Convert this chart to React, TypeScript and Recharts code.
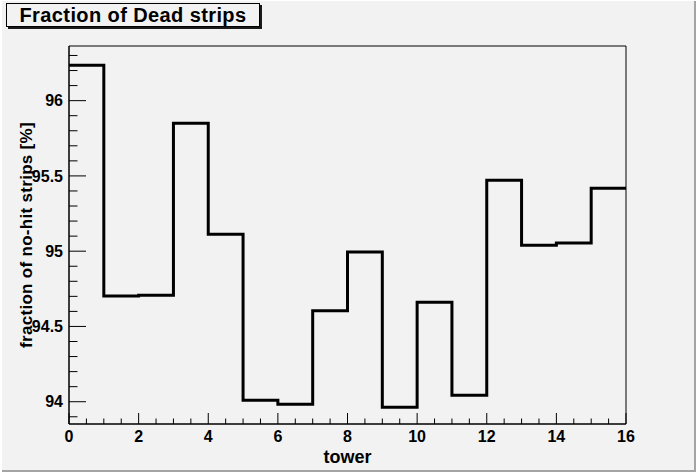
import { LineChart, Line, XAxis, YAxis, ReferenceArea, Label } from 'recharts'

// tower bin edges and the per-tower fraction of no-hit strips [%]
const towerEdges = [0, 1, 2, 3, 4, 5, 6, 7, 8, 9, 10, 11, 12, 13, 14, 15, 16]
const noHitFraction = [
  96.235, 94.702, 94.707, 95.85, 95.112, 94.009, 93.983, 94.605,
  94.995, 93.963, 94.66, 94.043, 95.471, 95.039, 95.055, 95.418,
]

const xMajorTicks = [0, 2, 4, 6, 8, 10, 12, 14, 16]
const xMinorStep = 0.5
const yMajorTicks = [94, 94.5, 95, 95.5, 96]
const yMinorStep = 0.1

const X_MIN = 0
const X_MAX = 16
const Y_MIN = 93.852
const Y_MAX = 96.363

const FONT = '"Liberation Sans", Arial, Helvetica, sans-serif'
const BG = '#f2f2f2'

// stepAfter needs a closing point at the right edge
const data = towerEdges.map((edge, i) => ({
  tower: edge,
  value: noHitFraction[Math.min(i, noHitFraction.length - 1)],
}))

const xTicks: number[] = []
for (let i = 0; i <= (X_MAX - X_MIN) / xMinorStep; i++) xTicks.push(X_MIN + i * xMinorStep)

const yTicks: number[] = []
for (let i = 0; i <= 24; i++) yTicks.push(Math.round((93.9 + i * yMinorStep) * 10) / 10)

const isMember = (list: number[], v: number) => list.some((t) => Math.abs(t - v) < 1e-6)

const XTick = ({ x, y, payload }: any) => {
  const major = isMember(xMajorTicks, payload.value)
  return (
    <g>
      <line x1={x} x2={x} y1={y} y2={y - (major ? 11 : 5.5)} stroke="#000" strokeWidth={1} />
      {major && (
        <text
          x={x}
          y={y + 18}
          textAnchor="middle"
          fontFamily={FONT}
          fontWeight="bold"
          fontSize={16}
          fill="#000"
        >
          {payload.value}
        </text>
      )}
    </g>
  )
}

const YTick = ({ x, y, payload }: any) => {
  const major = isMember(yMajorTicks, payload.value)
  return (
    <g>
      <line x1={x} x2={x + (major ? 17 : 8.5)} y1={y} y2={y} stroke="#000" strokeWidth={1} />
      {major && (
        <text
          x={x - 6}
          y={y}
          dy="0.36em"
          textAnchor="end"
          fontFamily={FONT}
          fontWeight="bold"
          fontSize={16}
          fill="#000"
        >
          {payload.value}
        </text>
      )}
    </g>
  )
}

const XTitle = ({ viewBox }: any) => (
  <text
    x={viewBox.x + viewBox.width / 2}
    y={463}
    textAnchor="middle"
    fontFamily={FONT}
    fontWeight="bold"
    fontSize={18}
    fill="#000"
  >
    tower
  </text>
)

const YTitle = ({ viewBox }: any) => {
  const cx = 31.5
  const cy = viewBox.y + viewBox.height / 2
  return (
    <text
      x={cx}
      y={cy}
      transform={`rotate(-90 ${cx} ${cy})`}
      textAnchor="middle"
      fontFamily={FONT}
      fontWeight="bold"
      fontSize={17}
      letterSpacing={0.3}
      fill="#000"
    >
      fraction of no-hit strips [%]
    </text>
  )
}

export default function App() {
  return (
    <div
      style={{
        position: 'absolute',
        left: 0,
        top: 0,
        width: 696,
        height: 472,
        background: BG,
        boxShadow: 'inset 2px 1px 0 #ffffff, inset -2px -2px 0 #a4a4a4',
      }}
    >
      <LineChart
        width={696}
        height={472}
        data={data}
        margin={{ top: 46, right: 70, left: 0, bottom: 0 }}
      >
        <XAxis
          dataKey="tower"
          type="number"
          domain={[X_MIN, X_MAX]}
          allowDataOverflow
          ticks={xTicks}
          interval={0}
          tickSize={0}
          tickMargin={0}
          tickLine={false}
          tick={<XTick />}
          height={48}
          axisLine={{ stroke: '#000', strokeWidth: 1 }}
        >
          <Label content={<XTitle />} />
        </XAxis>
        <YAxis
          type="number"
          domain={[Y_MIN, Y_MAX]}
          allowDataOverflow
          ticks={yTicks}
          interval={0}
          tickSize={0}
          tickMargin={0}
          tickLine={false}
          tick={<YTick />}
          width={69}
          axisLine={{ stroke: '#000', strokeWidth: 1 }}
        >
          <Label content={<YTitle />} />
        </YAxis>
        <ReferenceArea
          x1={X_MIN}
          x2={X_MAX}
          y1={Y_MIN}
          y2={Y_MAX}
          fill="none"
          stroke="#000"
          strokeWidth={1}
          fillOpacity={0}
        />
        <Line
          dataKey="value"
          type="stepAfter"
          stroke="#000"
          strokeWidth={3}
          dot={false}
          activeDot={false}
          isAnimationActive={false}
        />
      </LineChart>
      <div
        style={{
          position: 'absolute',
          left: 6,
          top: 3,
          width: 252,
          height: 22,
          border: '1px solid #000',
          boxShadow: '2px 2px 0 #1a1a1a',
          background: BG,
          fontFamily: FONT,
          fontWeight: 'bold',
          fontSize: 20,
          letterSpacing: 0.4,
          lineHeight: '23px',
          textAlign: 'center',
          color: '#000',
          whiteSpace: 'nowrap',
        }}
      >
        Fraction of Dead strips
      </div>
    </div>
  )
}
